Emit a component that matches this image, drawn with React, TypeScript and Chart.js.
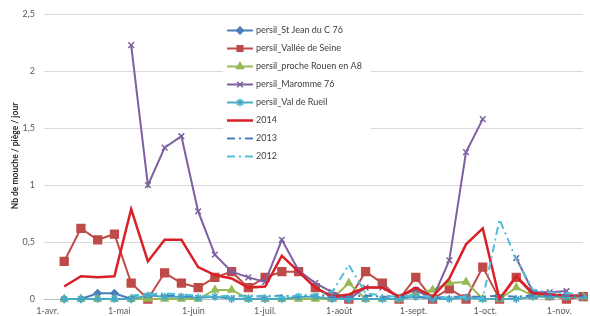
import { useEffect, useRef } from 'react';
import { Chart, registerables } from 'chart.js';
import { drawPoint } from 'chart.js/helpers';

Chart.register(...registerables);

// ---- data ----
const sampleDates = [
  '2014-04-08', '2014-04-15', '2014-04-22', '2014-04-29', '2014-05-06', '2014-05-13', '2014-05-20', '2014-05-27',
  '2014-06-03', '2014-06-10', '2014-06-17', '2014-06-24', '2014-07-01', '2014-07-08', '2014-07-15', '2014-07-22',
  '2014-07-29', '2014-08-05', '2014-08-12', '2014-08-19', '2014-08-26', '2014-09-02', '2014-09-09', '2014-09-16',
  '2014-09-23', '2014-09-30', '2014-10-07', '2014-10-14', '2014-10-21', '2014-10-28', '2014-11-04', '2014-11-11',
];

const tickDates = ['2014-04-01', '2014-05-01', '2014-06-01', '2014-07-01', '2014-08-01', '2014-09-01', '2014-10-01', '2014-11-01'];
const tickLabels = ['1-avr.', '1-mai', '1-juin', '1-juil.', '1-août', '1-sept.', '1-oct.', '1-nov.'];

const seriesNames = [
  'persil_St Jean du C 76',
  'persil_Vallée de Seine',
  'persil_proche Rouen en A8',
  'persil_Maromme 76',
  'persil_Val de Rueil',
  '2014',
  '2013',
  '2012',
];

const stJean = [0, 0, 0.05, 0.05, 0, null, null, null, null, null, null, null, null, null, null, null,
  null, null, null, null, null, null, null, null, null, null, null, null, null, null, null, null];

const valleeSeine = [0.33, 0.62, 0.52, 0.57, 0.14, 0, 0.23, 0.14, 0.1, 0.19, 0.24, 0.1, 0.19, 0.24, 0.24, 0.1,
  0.02, 0, 0.24, 0.14, 0, 0.19, 0, 0.09, 0, 0.28, 0, 0.19, 0.04, 0.03, 0, 0.02];

const procheRouen = [0, 0, 0, 0, 0, 0, 0, 0, 0, 0.08, 0.08, 0, 0, 0, 0, 0,
  0, 0.14, 0, 0, 0, 0.05, 0.08, 0.14, 0.15, 0, 0, 0.1, 0.03, 0.02, 0.02, 0.02];

const maromme = [null, null, null, null, 2.23, 1.0, 1.33, 1.43, 0.77, 0.39, 0.24, 0.19, 0.15, 0.52, 0.25, 0.14,
  0.06, 0, 0.1, 0.1, 0.02, 0.08, 0, 0.34, 1.29, 1.58, null, 0.36, 0.06, 0.06, 0.07, null];

const valDeRueil = [0, 0, 0, 0, 0, 0.03, 0.02, 0.02, 0.01, 0.02, 0, 0, 0, 0, 0.02, 0.02,
  0, 0, 0, 0, 0, 0.02, 0, 0, 0.01, 0, 0, 0, 0.02, 0.02, 0.02, 0.02];

const y2014 = [0.11, 0.2, 0.19, 0.2, 0.79, 0.33, 0.52, 0.52, 0.28, 0.21, 0.18, 0.1, 0.11, 0.38, 0.24, 0.1,
  0.02, 0.04, 0.1, 0.1, 0.02, 0.1, 0.02, 0.18, 0.48, 0.62, 0, 0.2, 0.05, 0.04, 0.03, 0.03];

const y2013 = [null, null, null, null, 0.02, 0.05, 0.03, 0.03, 0.02, 0.02, 0.02, 0.03, 0.02, 0.03, 0.02, 0.04,
  0.02, 0.02, 0.03, 0.02, 0.02, 0.02, 0.01, 0.02, 0.02, 0.02, 0.03, 0.02, 0.03, 0.03, 0.03, 0.02];

const y2012 = [null, null, null, null, 0.03, 0.04, 0.05, 0.04, 0.03, 0.02, 0.03, 0.02, 0.03, 0.02, 0.03, 0.04,
  0.06, 0.3, 0.05, 0.03, 0.02, 0.03, 0.02, 0.01, 0.02, 0, 0.7, 0.35, 0.08, 0.06, 0.05, 0.04];

const seriesValues = [stJean, valleeSeine, procheRouen, maromme, valDeRueil, y2014, y2013, y2012];

// ---- styles ----
const seriesStyles = [
  { color: '#4A7EBB', pointStyle: 'rectRot', radius: 3.5, width: 2, dash: [] as number[] },
  { color: '#BE4B48', pointStyle: 'rect', radius: 5.5, width: 2, dash: [] as number[] },
  { color: '#98B954', pointStyle: 'triangle', radius: 4, width: 2, dash: [] as number[] },
  { color: '#7D60A0', pointStyle: 'crossRot', radius: 4, width: 2, dash: [] as number[] },
  { color: '#46AAC5', pointStyle: 'star', radius: 4, width: 2, dash: [] as number[] },
  { color: '#DA1F26', pointStyle: false as any, radius: 0, width: 2.5, dash: [] as number[] },
  { color: '#4A7EBB', pointStyle: false as any, radius: 0, width: 2, dash: [8, 4, 2, 4] },
  { color: '#4BC0DA', pointStyle: false as any, radius: 0, width: 2, dash: [8, 4, 2, 4] },
];

const FONT = 'Lato, "Liberation Sans", sans-serif';

function dayOffset(s: string) {
  const [y, m, d] = s.split('-').map(Number);
  return (Date.UTC(y, m - 1, d) - Date.UTC(2014, 3, 1)) / 86400000;
}

const legendPlugin = {
  id: 'customLegend',
  afterDraw(chart: any) {
    const ctx = chart.ctx as CanvasRenderingContext2D;
    ctx.save();
    ctx.fillStyle = '#ffffff';
    ctx.fillRect(223, 19, 148, 147);
    chart.data.datasets.forEach((ds: any, i: number) => {
      const y = 30.5 + i * 18;
      ctx.strokeStyle = ds.borderColor;
      ctx.lineWidth = ds.borderWidth;
      ctx.setLineDash(ds.borderDash || []);
      ctx.beginPath();
      ctx.moveTo(227, y);
      ctx.lineTo(253, y);
      ctx.stroke();
      ctx.setLineDash([]);
      if (ds.pointStyle && ds.pointRadius > 0) {
        ctx.fillStyle = ds.pointBackgroundColor;
        ctx.strokeStyle = ds.pointBorderColor;
        ctx.lineWidth = 1.5;
        drawPoint(ctx, { pointStyle: ds.pointStyle, rotation: 0, radius: Math.min(ds.pointRadius, 4), borderWidth: 1.5 } as any, 240, y);
      }
      ctx.fillStyle = '#404040';
      ctx.font = `9px ${FONT}`;
      ctx.textAlign = 'left';
      ctx.textBaseline = 'middle';
      ctx.fillText(ds.label, 256, y);
    });
    ctx.restore();
  },
};

const yTitlePlugin = {
  id: 'yTitle',
  afterDraw(chart: any) {
    const ctx = chart.ctx as CanvasRenderingContext2D;
    ctx.save();
    ctx.translate(15, 156);
    ctx.rotate(-Math.PI / 2);
    ctx.fillStyle = '#262626';
    ctx.font = `bold 8.5px ${FONT}`;
    ctx.textAlign = 'center';
    ctx.textBaseline = 'middle';
    ctx.fillText('Nb de mouche / piège / jour', 0, 0);
    ctx.restore();
  },
};

export default function App() {
  const canvasRef = useRef<HTMLCanvasElement | null>(null);

  useEffect(() => {
    if (!canvasRef.current) return;
    const xs = sampleDates.map(dayOffset);
    const tickValues = tickDates.map(dayOffset);
    const n = seriesNames.length;
    const datasets = seriesNames.map((name, i) => {
      const st = seriesStyles[i];
      return {
        label: name,
        data: seriesValues[i].map((v, j) => ({ x: xs[j], y: v })),
        borderColor: st.color,
        backgroundColor: st.color,
        borderWidth: st.width,
        borderDash: st.dash,
        pointStyle: st.pointStyle,
        pointRadius: st.radius,
        pointBackgroundColor: st.color,
        pointBorderColor: st.color,
        pointBorderWidth: 1.5,
        tension: 0,
        spanGaps: false,
        clip: false as any,
        order: n - i,
        fill: false,
      };
    });

    const chart = new Chart(canvasRef.current, {
      type: 'line',
      data: { datasets: datasets as any },
      plugins: [legendPlugin, yTitlePlugin],
      options: {
        animation: false,
        responsive: false,
        devicePixelRatio: 1,
        layout: { padding: { top: 13, left: 0, right: 0, bottom: 0 } },
        plugins: { legend: { display: false }, tooltip: { enabled: false } },
        scales: {
          x: {
            type: 'linear',
            min: -1.44,
            max: 223.9,
            grid: { display: false, drawTicks: false },
            border: { display: true, color: '#BFBFBF', width: 1 },
            afterBuildTicks: (scale: any) => {
              scale.ticks = tickValues.map((v) => ({ value: v }));
            },
            afterFit: (scale: any) => {
              scale.height = 17;
            },
            ticks: {
              autoSkip: false,
              maxRotation: 0,
              padding: 7,
              color: '#595959',
              font: { family: FONT, size: 9 },
              callback: (value: any) => {
                const idx = tickValues.indexOf(Number(value));
                return idx >= 0 ? tickLabels[idx] : '';
              },
            },
          },
          y: {
            min: 0,
            max: 2.5,
            border: { display: false },
            grid: { color: '#D9D9D9', drawTicks: false, lineWidth: 1 },
            afterFit: (scale: any) => {
              scale.width = 44;
            },
            ticks: {
              stepSize: 0.5,
              padding: 9,
              color: '#595959',
              font: { family: FONT, size: 9 },
              callback: (value: any) => String(value).replace('.', ','),
            },
          },
        },
      },
    });
    return () => chart.destroy();
  }, []);

  return (
    <div style={{ position: 'fixed', left: 0, top: 0, width: 590, height: 316, background: '#ffffff', overflow: 'hidden' }}>
      <canvas ref={canvasRef} width={590} height={316} style={{ width: 590, height: 316, display: 'block' }} />
    </div>
  );
}
